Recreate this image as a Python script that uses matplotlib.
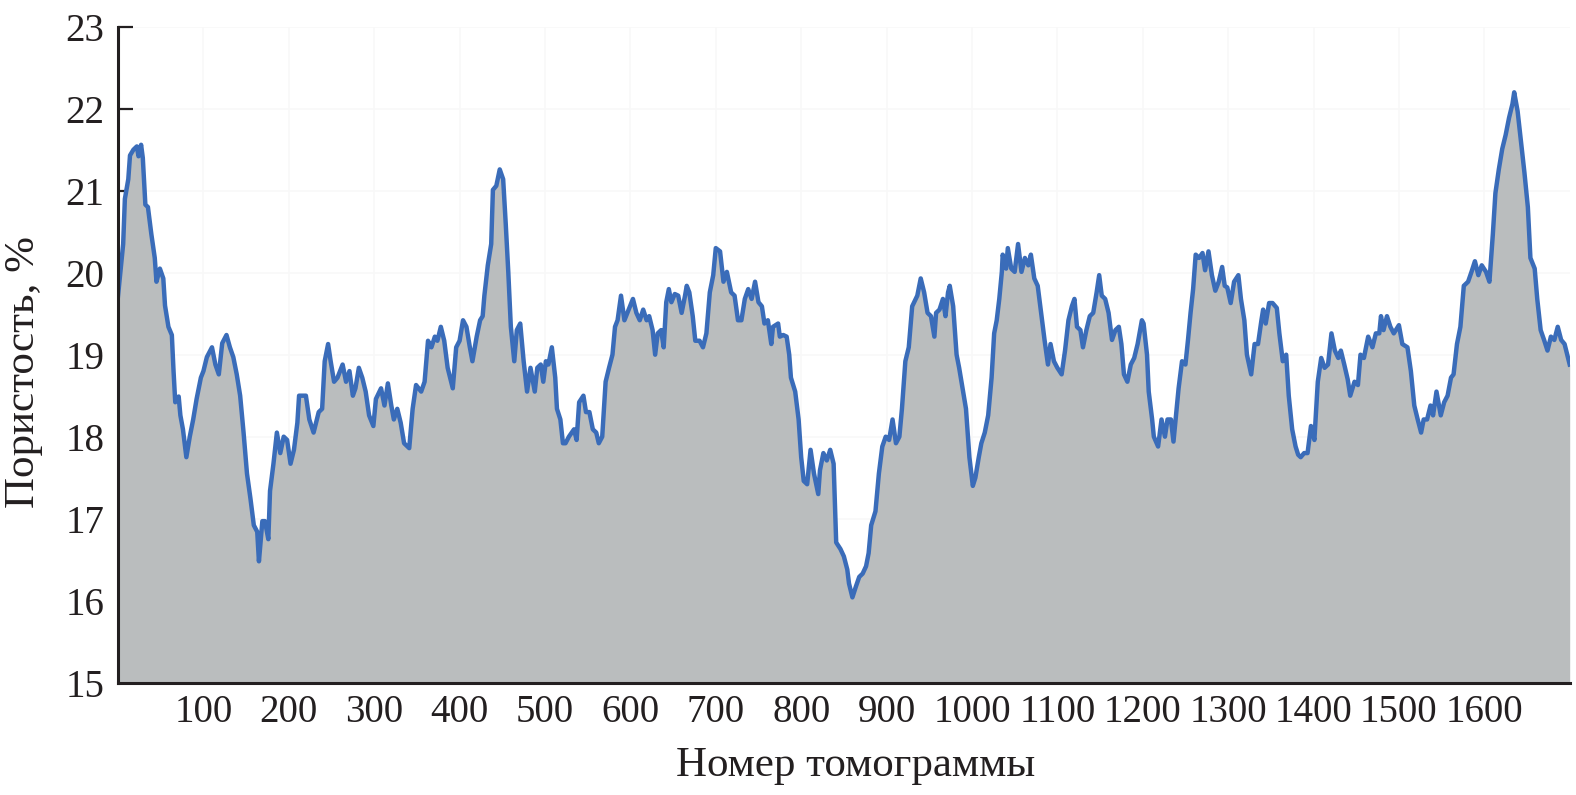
import matplotlib
matplotlib.use("Agg")
import matplotlib.pyplot as plt
import numpy as np

plt.rcParams["font.family"] = ["Liberation Serif", "DejaVu Serif"]

# номер томограммы и пористость (%)
tomo = [
    0, 6, 8, 12, 14, 18, 22, 24, 27, 29, 32, 35, 39, 43, 45, 49, 53, 55, 59, 63,
    65, 67, 71, 73, 76, 80, 84, 88, 92, 97, 100, 104, 110, 114, 118, 122, 127, 131, 135, 139,
    143, 147, 151, 155, 159, 163, 165, 169, 172, 176, 178, 182, 186, 190, 194, 198, 202, 206, 210, 212,
    220, 224, 229, 235, 239, 242, 246, 249, 253, 257, 263, 267, 271, 275, 278, 282, 286, 290, 294, 299,
    302, 308, 312, 316, 320, 323, 327, 331, 335, 341, 345, 349, 355, 359, 363, 367, 371, 374, 378, 382,
    386, 390, 392, 396, 400, 404, 408, 412, 415, 420, 424, 427, 429, 433, 437, 439, 443, 447, 451, 454,
    457, 460, 464, 467, 471, 475, 479, 483, 488, 491, 495, 498, 501, 504, 508, 512, 514, 518, 521, 524,
    528, 534, 537, 540, 545, 548, 552, 556, 560, 563, 567, 571, 575, 579, 582, 585, 589, 593, 598, 603,
    607, 611, 615, 619, 622, 626, 629, 632, 636, 639, 642, 645, 648, 652, 656, 660, 664, 666, 669, 673,
    676, 681, 685, 689, 693, 697, 700, 705, 709, 713, 718, 722, 726, 730, 734, 738, 742, 746, 750, 754,
    757, 761, 765, 767, 773, 775, 779, 783, 786, 788, 793, 797, 800, 803, 807, 811, 815, 820, 822, 826,
    830, 834, 838, 841, 846, 850, 854, 856, 860, 864, 868, 872, 876, 879, 882, 887, 891, 895, 899, 903,
    907, 911, 915, 918, 922, 926, 930, 936, 940, 944, 948, 952, 956, 958, 962, 966, 969, 972, 974, 978,
    982, 985, 989, 993, 997, 1001, 1004, 1008, 1011, 1015, 1019, 1023, 1026, 1029, 1032, 1035, 1036, 1040, 1042, 1046,
    1050, 1054, 1058, 1062, 1066, 1069, 1073, 1077, 1081, 1085, 1089, 1092, 1096, 1100, 1105, 1109, 1113, 1117, 1120, 1123,
    1127, 1130, 1134, 1138, 1142, 1146, 1149, 1152, 1156, 1160, 1164, 1168, 1172, 1175, 1178, 1182, 1186, 1190, 1194, 1199,
    1201, 1205, 1207, 1211, 1213, 1218, 1222, 1226, 1229, 1233, 1236, 1239, 1242, 1246, 1250, 1253, 1256, 1259, 1262, 1266,
    1270, 1273, 1277, 1281, 1285, 1289, 1293, 1296, 1299, 1303, 1307, 1312, 1315, 1319, 1322, 1327, 1331, 1335, 1339, 1341,
    1344, 1348, 1352, 1357, 1360, 1364, 1368, 1371, 1375, 1379, 1382, 1385, 1389, 1393, 1397, 1401, 1405, 1409, 1413, 1417,
    1421, 1425, 1429, 1432, 1436, 1440, 1443, 1448, 1452, 1455, 1459, 1464, 1469, 1473, 1477, 1479, 1482, 1486, 1490, 1494,
    1500, 1504, 1510, 1514, 1518, 1522, 1526, 1529, 1533, 1537, 1540, 1544, 1549, 1553, 1557, 1561, 1564, 1568, 1572, 1576,
    1581, 1585, 1589, 1593, 1597, 1602, 1606, 1610, 1613, 1617, 1621, 1625, 1629, 1633, 1635, 1639, 1643, 1647, 1651, 1654,
    1659, 1662, 1666, 1670, 1674, 1678, 1682, 1686, 1690, 1694, 1700,
]
porosity = [
    19.72, 20.35, 20.90, 21.14, 21.43, 21.50, 21.54, 21.42, 21.56, 21.40, 20.83, 20.80, 20.47, 20.18, 19.89, 20.05, 19.93, 19.60, 19.34, 19.24,
    18.80, 18.42, 18.49, 18.26, 18.09, 17.75, 18.00, 18.21, 18.46, 18.72, 18.80, 18.97, 19.09, 18.88, 18.76, 19.14, 19.24, 19.09, 18.97, 18.76,
    18.50, 18.05, 17.55, 17.25, 16.92, 16.84, 16.48, 16.97, 16.97, 16.75, 17.34, 17.67, 18.05, 17.80, 18.00, 17.96, 17.67, 17.84, 18.17, 18.50,
    18.50, 18.21, 18.05, 18.30, 18.34, 18.92, 19.13, 18.92, 18.67, 18.72, 18.88, 18.67, 18.80, 18.50, 18.59, 18.84, 18.72, 18.55, 18.26, 18.13,
    18.46, 18.59, 18.38, 18.65, 18.38, 18.21, 18.34, 18.17, 17.92, 17.86, 18.34, 18.63, 18.55, 18.67, 19.17, 19.09, 19.22, 19.17, 19.34, 19.17,
    18.84, 18.67, 18.59, 19.09, 19.17, 19.42, 19.34, 19.09, 18.92, 19.22, 19.42, 19.47, 19.72, 20.09, 20.35, 21.01, 21.06, 21.26, 21.14, 20.60,
    20.01, 19.34, 18.92, 19.30, 19.38, 18.92, 18.55, 18.84, 18.55, 18.84, 18.88, 18.67, 18.92, 18.88, 19.09, 18.72, 18.34, 18.21, 17.92, 17.92,
    18.00, 18.09, 17.96, 18.42, 18.50, 18.30, 18.30, 18.09, 18.05, 17.92, 18.00, 18.67, 18.84, 19.00, 19.34, 19.42, 19.72, 19.42, 19.55, 19.68,
    19.51, 19.42, 19.55, 19.42, 19.47, 19.30, 19.00, 19.26, 19.30, 19.09, 19.64, 19.80, 19.64, 19.74, 19.72, 19.51, 19.72, 19.84, 19.76, 19.47,
    19.17, 19.17, 19.09, 19.26, 19.76, 19.97, 20.30, 20.26, 19.89, 20.01, 19.76, 19.72, 19.42, 19.42, 19.68, 19.80, 19.68, 19.89, 19.64, 19.59,
    19.38, 19.42, 19.13, 19.34, 19.38, 19.22, 19.24, 19.22, 19.00, 18.72, 18.55, 18.21, 17.75, 17.46, 17.42, 17.84, 17.55, 17.30, 17.59, 17.80,
    17.71, 17.84, 17.67, 16.71, 16.63, 16.54, 16.38, 16.21, 16.04, 16.17, 16.29, 16.33, 16.42, 16.58, 16.92, 17.09, 17.55, 17.88, 18.00, 17.96,
    18.21, 17.92, 18.00, 18.34, 18.92, 19.09, 19.59, 19.72, 19.93, 19.76, 19.51, 19.47, 19.22, 19.51, 19.55, 19.68, 19.47, 19.76, 19.84, 19.59,
    19.00, 18.84, 18.59, 18.34, 17.75, 17.40, 17.50, 17.75, 17.92, 18.05, 18.26, 18.72, 19.26, 19.42, 19.68, 20.01, 20.22, 20.05, 20.30, 20.05,
    20.01, 20.35, 20.01, 20.18, 20.09, 20.22, 19.93, 19.84, 19.51, 19.18, 18.88, 19.13, 18.92, 18.84, 18.76, 19.05, 19.42, 19.59, 19.68, 19.34,
    19.30, 19.09, 19.30, 19.47, 19.51, 19.76, 19.97, 19.72, 19.68, 19.51, 19.18, 19.30, 19.34, 19.13, 18.76, 18.67, 18.88, 18.96, 19.13, 19.42,
    19.38, 19.00, 18.55, 18.21, 18.00, 17.88, 18.21, 18.00, 18.21, 18.21, 17.94, 18.26, 18.59, 18.92, 18.88, 19.18, 19.51, 19.80, 20.22, 20.18,
    20.24, 20.03, 20.26, 19.97, 19.78, 19.89, 20.07, 19.84, 19.82, 19.63, 19.89, 19.97, 19.68, 19.42, 19.00, 18.76, 19.13, 19.13, 19.42, 19.55,
    19.38, 19.63, 19.63, 19.57, 19.26, 18.92, 19.00, 18.50, 18.09, 17.88, 17.78, 17.75, 17.80, 17.80, 18.13, 17.96, 18.67, 18.96, 18.84, 18.88,
    19.26, 19.05, 18.96, 19.05, 18.88, 18.70, 18.50, 18.67, 18.63, 19.00, 18.96, 19.22, 19.09, 19.26, 19.26, 19.47, 19.30, 19.47, 19.34, 19.26,
    19.36, 19.13, 19.09, 18.80, 18.38, 18.21, 18.05, 18.21, 18.21, 18.38, 18.26, 18.55, 18.26, 18.42, 18.50, 18.72, 18.76, 19.13, 19.34, 19.84,
    19.89, 20.01, 20.14, 19.97, 20.09, 20.01, 19.89, 20.47, 20.97, 21.26, 21.51, 21.68, 21.89, 22.06, 22.20, 21.97, 21.60, 21.22, 20.80, 20.18,
    20.05, 19.68, 19.30, 19.18, 19.05, 19.22, 19.18, 19.34, 19.18, 19.13, 18.88,
]

x_ticks = list(range(100, 1700, 100))
y_ticks = list(range(15, 24))

fill_color = "#babdbe"
line_color = "#3a6cb9"
axis_color = "#231f20"

fig = plt.figure(figsize=(15.76, 7.95), dpi=100)
ax = fig.add_axes([0.0749, 0.1413, 0.9211, 0.8251])

ax.fill_between(tomo, 15, porosity, color=fill_color, lw=0, zorder=2)
ax.plot(tomo, porosity, color=line_color, lw=3.2, solid_joinstyle="round", zorder=3)

ax.set_xlim(0, 1700)
ax.set_ylim(15, 23)
ax.set_xticks(x_ticks)
ax.set_yticks(y_ticks)
ax.grid(True, color="#f8f8f8", lw=1.2, zorder=0)
ax.set_axisbelow(True)

for side in ("top", "right"):
    ax.spines[side].set_visible(False)
for side in ("left", "bottom"):
    ax.spines[side].set_color(axis_color)
    ax.spines[side].set_linewidth(2.2)
    ax.spines[side].set_zorder(4)

ax.tick_params(axis="both", direction="in", length=11, width=1.6,
               color=axis_color, labelsize=28, labelcolor=axis_color)
ax.tick_params(axis="y", pad=10)
ax.tick_params(axis="x", pad=8)

ax.set_xlabel("Номер томограммы", fontsize=31, color=axis_color)
ax.set_ylabel("Пористость, %", fontsize=31, color=axis_color)
# подписи осей в оригинале чуть смещены от центра
ax.xaxis.set_label_coords(0.508, -0.098)
ax.yaxis.set_label_coords(-0.052, 0.473)

fig.savefig("out.png", dpi=100)
